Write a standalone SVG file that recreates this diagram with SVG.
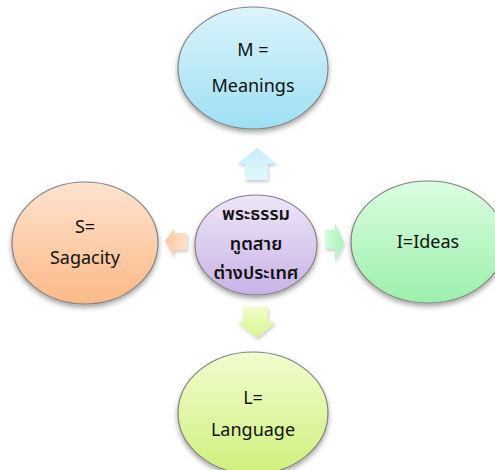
<svg xmlns="http://www.w3.org/2000/svg" width="495" height="470" viewBox="0 0 495 470">
<defs>
<linearGradient id="gM" x1="0" y1="0" x2="0" y2="1"><stop offset="0" stop-color="#dcf4fb"/><stop offset="1" stop-color="#9edff3"/></linearGradient>
<linearGradient id="gS" x1="0" y1="0" x2="0" y2="1"><stop offset="0" stop-color="#fee3d1"/><stop offset="1" stop-color="#fbb987"/></linearGradient>
<linearGradient id="gI" x1="0" y1="0" x2="0" y2="1"><stop offset="0" stop-color="#dcfde2"/><stop offset="1" stop-color="#9cefab"/></linearGradient>
<linearGradient id="gL" x1="0" y1="0" x2="0" y2="1"><stop offset="0" stop-color="#f1fdd0"/><stop offset="1" stop-color="#cff07c"/></linearGradient>
<linearGradient id="gC" x1="0" y1="0" x2="0" y2="1"><stop offset="0" stop-color="#efe6f8"/><stop offset="1" stop-color="#c8b2e6"/></linearGradient>
<linearGradient id="aU" x1="0" y1="0" x2="0" y2="1"><stop offset="0" stop-color="#c6eefb"/><stop offset="1" stop-color="#e2f7fd"/></linearGradient>
<linearGradient id="aD" x1="0" y1="0" x2="0" y2="1"><stop offset="0" stop-color="#f0fdc8"/><stop offset="1" stop-color="#d9f58e"/></linearGradient>
<linearGradient id="aL" x1="0" y1="0" x2="1" y2="0"><stop offset="0" stop-color="#fcc9a3"/><stop offset="1" stop-color="#fde2ce"/></linearGradient>
<linearGradient id="aR" x1="0" y1="0" x2="1" y2="0"><stop offset="0" stop-color="#d4fcdc"/><stop offset="1" stop-color="#a8f2b6"/></linearGradient>
<filter id="sh" x="-20%" y="-20%" width="140%" height="150%"><feDropShadow dx="0" dy="3" stdDeviation="2.5" flood-color="#000" flood-opacity="0.35"/></filter>
<filter id="ash" x="-30%" y="-30%" width="160%" height="160%"><feDropShadow dx="1" dy="2" stdDeviation="1.5" flood-color="#000" flood-opacity="0.2"/></filter>
</defs>
<style>
.n{stroke:#808080;stroke-width:1.2;filter:url(#sh)}
.t{font-family:"Noto Sans","Liberation Sans",sans-serif;font-size:18px;fill:#111;text-anchor:middle}
.th{font-family:"Noto Sans Thai","Noto Sans","DejaVu Sans",sans-serif;font-size:18px;font-weight:600;fill:#111;text-anchor:middle}
.a{filter:url(#ash)}
</style>
<g id="connectors">
<polygon class="a" fill="url(#aU)" points="257,148 277,164 268,164 268,180 245,180 245,164 237,164"/>
<polygon class="a" fill="url(#aD)" points="243,307 268,307 268,322 276,322 257,338 237,322 243,322"/>
<polygon class="a" fill="url(#aL)" points="165,241 174,228 174,233 187,233 187,250 174,250 174,257"/>
<polygon class="a" fill="url(#aR)" points="325,230 335,230 335,223 344,243 335,262 335,249 325,249"/>
</g>
<g id="nodeM"><ellipse class="n" cx="253" cy="68" rx="75" ry="61" fill="url(#gM)"/><text class="t" x="253" y="56">M =</text><text class="t" x="253" y="92">Meanings</text></g>
<g id="nodeS"><ellipse class="n" cx="85" cy="243" rx="73" ry="61" fill="url(#gS)"/><text class="t" x="85" y="233">S=</text><text class="t" x="85" y="264">Sagacity</text></g>
<g id="nodeI"><ellipse class="n" cx="428" cy="242" rx="77" ry="61" fill="url(#gI)"/><text class="t" x="428" y="248">I=Ideas</text></g>
<g id="nodeL"><ellipse class="n" cx="253" cy="413" rx="75" ry="61" fill="url(#gL)"/><text class="t" x="253" y="404">L=</text><text class="t" x="253" y="436">Language</text></g>
<g id="nodeC"><ellipse class="n" cx="256" cy="245" rx="61" ry="50" fill="url(#gC)"/><text class="th" x="256" y="220">พระธรรม</text><text class="th" x="256" y="250">ทูตสาย</text><text class="th" x="256" y="279">ต่างประเทศ</text></g>
</svg>
